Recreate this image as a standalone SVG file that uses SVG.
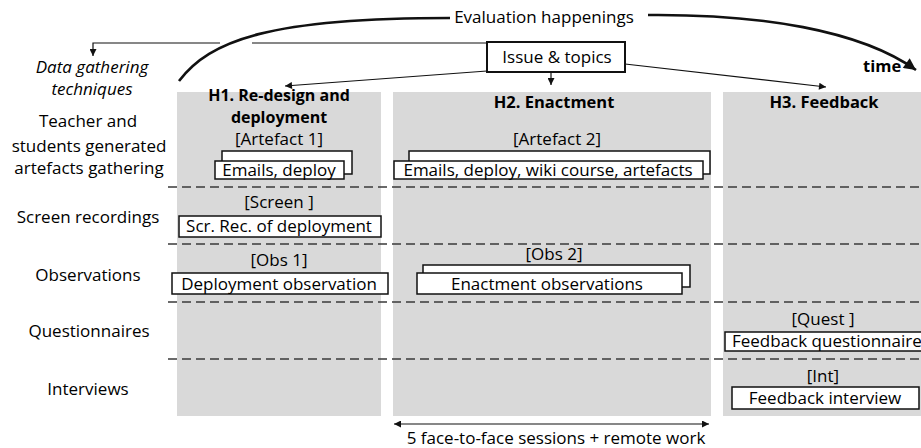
<svg xmlns="http://www.w3.org/2000/svg" width="921" height="448" viewBox="0 0 921 448">
<defs>
<style>
text{font-family:"Open Sans","Liberation Sans",Arial,sans-serif;font-size:17px;fill:#000;}
.c{text-anchor:middle;}
.b{font-weight:bold;font-size:16.5px;}
.h1{font-size:16px;}
.i{font-style:italic;}
.panel{fill:#d9d9d9;stroke:none;}
.dash{stroke:#3a3a3a;stroke-width:1.4;stroke-dasharray:9,5;fill:none;}
.box{fill:#fff;stroke:#111;stroke-width:1.5;}
.ln{stroke:#111;stroke-width:1.2;fill:none;}
.thick{stroke:#111;stroke-width:2.6;fill:none;}
</style>
<marker id="ah" viewBox="0 0 10 10" refX="10" refY="5" markerWidth="8" markerHeight="7" markerUnits="userSpaceOnUse" orient="auto-start-reverse">
<path d="M0,0 L10,5 L0,10 z" fill="#111"/>
</marker>
<marker id="big" viewBox="0 0 10 10" refX="10" refY="5" markerWidth="15" markerHeight="12" markerUnits="userSpaceOnUse" orient="auto">
<path d="M0,0 L10,5 L0,10 z" fill="#111"/>
</marker>
</defs>

<g id="panels">
<rect class="panel" x="177" y="92" width="204" height="324"/>
<rect class="panel" x="393" y="92" width="318" height="324"/>
<rect class="panel" x="723" y="92" width="200" height="324"/>
</g>

<g id="row-dividers">
<line class="dash" x1="168" y1="187" x2="921" y2="187"/>
<line class="dash" x1="168" y1="244" x2="921" y2="244"/>
<line class="dash" x1="168" y1="302" x2="921" y2="302"/>
<line class="dash" x1="168" y1="359" x2="921" y2="359"/>
</g>

<g id="connectors">
<path class="thick" d="M179,81 C210,40 270,18 450,18"/>
<path class="thick" d="M648,15 C760,14 860,30 916,70" marker-end="url(#big)"/>
<polyline class="ln" points="220,43 93,43 93,56" marker-end="url(#ah)"/>
<line class="ln" x1="252" y1="43" x2="487" y2="43"/>
<line class="ln" x1="487" y1="71" x2="285" y2="86" marker-end="url(#ah)"/>
<line class="ln" x1="551" y1="72" x2="551" y2="85" marker-end="url(#ah)"/>
<line class="ln" x1="625" y1="64" x2="826" y2="87" marker-end="url(#ah)"/>
<line class="ln" x1="394" y1="424" x2="709" y2="424" marker-start="url(#ah)" marker-end="url(#ah)"/>
</g>

<g id="evaluation-happenings"><text class="c" x="544" y="23">Evaluation happenings</text></g>
<g id="time-label"><text class="b" x="863" y="72">time</text></g>

<g id="issue-topics">
<rect class="box" x="487" y="42" width="138" height="30" style="stroke-width:2"/>
<text class="c" x="557" y="63">Issue &amp; topics</text>
</g>

<g id="row-labels">
<text class="c i" x="92" y="73">Data gathering<tspan x="92" y="95">techniques</tspan></text>
<text class="c" x="88" y="127">Teacher and<tspan x="89" y="152">students generated</tspan><tspan x="89" y="174">artefacts gathering</tspan></text>
<text class="c" x="88" y="223">Screen recordings</text>
<text class="c" x="88" y="281">Observations</text>
<text class="c" x="89" y="337">Questionnaires</text>
<text class="c" x="88" y="395">Interviews</text>
</g>

<g id="h1">
<text class="c b h1" x="279" y="101">H1. Re-design and<tspan x="279" y="123">deployment</tspan></text>
</g>
<g id="h2"><text class="c b" x="554" y="108">H2. Enactment</text></g>
<g id="h3"><text class="c b" x="824" y="108">H3. Feedback</text></g>

<g id="artefact1">
<text class="c" x="279" y="145">[Artefact 1]</text>
<rect class="box" x="222" y="151" width="130" height="23"/>
<rect class="box" x="215" y="161" width="129" height="18"/>
<text class="c" x="279" y="176">Emails, deploy</text>
</g>

<g id="artefact2">
<text class="c" x="557" y="145">[Artefact 2]</text>
<rect class="box" x="409" y="151" width="301" height="23"/>
<rect class="box" x="394" y="161" width="309" height="18"/>
<text class="c" x="548" y="176">Emails, deploy, wiki course, artefacts</text>
</g>

<g id="screen">
<text class="c" x="279" y="208">[Screen ]</text>
<rect class="box" x="179" y="216" width="202" height="21"/>
<text class="c" x="279" y="232">Scr. Rec. of deployment</text>
</g>

<g id="obs1">
<text class="c" x="279" y="266">[Obs 1]</text>
<rect class="box" x="172" y="273" width="216" height="21"/>
<text class="c" x="279" y="290">Deployment observation</text>
</g>

<g id="obs2">
<text class="c" x="554" y="260">[Obs 2]</text>
<rect class="box" x="423" y="265" width="267" height="22"/>
<rect class="box" x="417" y="273" width="265" height="21"/>
<text class="c" x="547" y="290">Enactment observations</text>
</g>

<g id="quest">
<text class="c" x="823" y="325">[Quest ]</text>
<rect class="box" x="725" y="332" width="205" height="19"/>
<text x="732" y="347">Feedback questionnaire</text>
</g>

<g id="int">
<text class="c" x="823" y="382">[Int]</text>
<rect class="box" x="732" y="387" width="187" height="22"/>
<text class="c" x="825" y="404">Feedback interview</text>
</g>

<g id="sessions"><text class="c" x="556" y="444">5 face-to-face sessions  + remote work</text></g>
</svg>
